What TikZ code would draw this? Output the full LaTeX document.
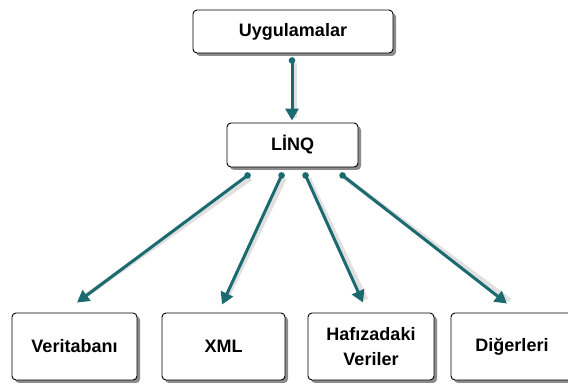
\documentclass[tikz,border=0pt]{standalone}
\usepackage{fontspec}
\setmainfont{Liberation Sans}
\usetikzlibrary{arrows.meta,shadows,calc}
\definecolor{teal1}{HTML}{1A6A6F}
\tikzset{
  box/.style={draw=black, line width=0.9pt, rounded corners=4pt, fill=white, align=center,
    font=\bfseries\fontsize{18}{25}\selectfont, inner sep=0pt,
    drop shadow={shadow xshift=3pt, shadow yshift=-3pt, fill=black, opacity=0.45}},
  conn/.style={draw=teal1, line width=3pt, -{Triangle[width=13pt,length=12pt]}},
  dot/.style={fill=teal1},
  connshadow/.style={draw=black, line width=4.5pt, opacity=0.12}
}
\begin{document}
\begin{tikzpicture}[x=1pt,y=-1pt]
\useasboundingbox (0,0) rectangle (568,387);
\begin{scope}
\clip (0,0) rectangle (568,387);
\node[box, minimum width=200pt, minimum height=43pt] (app) at (293,31.5) {Uygulamalar};
\node[box, minimum width=131pt, minimum height=44pt] (linq) at (292.5,145) {LİNQ};
\node[box, minimum width=125pt, minimum height=67pt] (veri) at (74.5,346.5) {Veritabanı};
\node[box, minimum width=123pt, minimum height=67pt] (xml) at (223.5,346.5) {XML};
\node[box, minimum width=126pt, minimum height=67pt] (hafiza) at (371,346.5) {Hafızadaki\\Veriler};
\node[box, minimum width=122pt, minimum height=67pt] (diger) at (512,346.5) {Diğerleri};

\coordinate (a0) at ($(app.south)+(-1,7)$);
\coordinate (a1) at ($(linq.north)+(-0.5,-2)$);
\coordinate (s1) at ($(linq.south west)+(21,8)$);
\coordinate (s2) at ($(linq.south west)+(55,8)$);
\coordinate (s3) at ($(linq.south west)+(79,8)$);
\coordinate (s4) at ($(linq.south west)+(116,8)$);
\coordinate (e1) at ($(veri.north)+(2.5,-10)$);
\coordinate (e2) at ($(xml.north)+(-1.5,-8)$);
\coordinate (e3) at ($(hafiza.north)+(-8,-10)$);
\coordinate (e4) at ($(diger.north)+(-5,-9)$);

\foreach \p/\q in {a0/a1,s1/e1,s2/e2,s3/e3,s4/e4}{
  \draw[connshadow] ($(\p)+(3,3)$) -- ($(\q)+(3,-3)$);
}
\foreach \p/\q in {a0/a1,s1/e1,s2/e2,s3/e3,s4/e4}{
  \draw[conn] (\p) -- (\q);
  \fill[dot] (\p) circle (3.3pt);
}
\end{scope}
\end{tikzpicture}
\end{document}
